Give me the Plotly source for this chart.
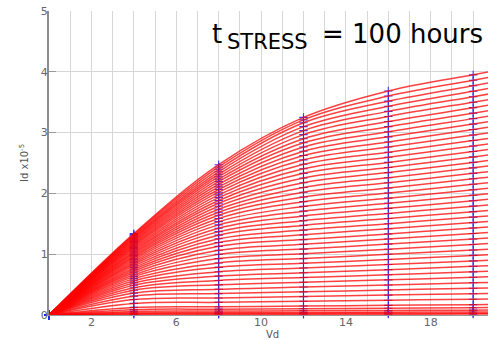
import plotly.graph_objects as go

# Drain voltage positions where each curve was sampled (blue markers at 0..20)
vd_points = [0, 4, 8, 12, 16, 20, 21]
vd_markers = [0, 4, 8, 12, 16, 20]

# Drain current (x10^-5) of each curve, read at each Vd position
id_vd4 = [1.338, 1.322, 1.304, 1.286, 1.267, 1.248, 1.230, 1.211, 1.192, 1.172,
          1.152, 1.132, 1.111, 1.091, 1.069, 1.048, 1.025, 1.004, 0.981, 0.958,
          0.934, 0.910, 0.885, 0.860, 0.834, 0.808, 0.780, 0.752, 0.724, 0.694,
          0.663, 0.631, 0.598, 0.564, 0.528, 0.490, 0.449, 0.406, 0.360, 0.310,
          0.254, 0.191, 0.125, 0.088, 0.059, 0.037, 0.022, 0.011]
id_vd8 = [2.472, 2.435, 2.396, 2.356, 2.315, 2.275, 2.235, 2.193, 2.150, 2.108,
          2.064, 2.020, 1.976, 1.930, 1.883, 1.837, 1.789, 1.740, 1.691, 1.640,
          1.588, 1.536, 1.482, 1.427, 1.371, 1.313, 1.253, 1.192, 1.129, 1.064,
          0.997, 0.928, 0.856, 0.784, 0.712, 0.640, 0.568, 0.496, 0.424, 0.352,
          0.280, 0.208, 0.136, 0.096, 0.064, 0.040, 0.024, 0.012]
id_vd12 = [3.250, 3.210, 3.163, 3.098, 3.033, 2.967, 2.900, 2.832, 2.764, 2.694,
           2.623, 2.552, 2.479, 2.405, 2.330, 2.254, 2.176, 2.098, 2.020, 1.942,
           1.864, 1.786, 1.708, 1.630, 1.552, 1.474, 1.396, 1.318, 1.240, 1.162,
           1.084, 1.006, 0.928, 0.850, 0.772, 0.694, 0.616, 0.538, 0.460, 0.381,
           0.303, 0.225, 0.147, 0.104, 0.069, 0.043, 0.026, 0.013]
id_vd16 = [3.685, 3.601, 3.517, 3.433, 3.349, 3.266, 3.182, 3.098, 3.014, 2.930,
           2.846, 2.762, 2.678, 2.594, 2.510, 2.426, 2.342, 2.258, 2.174, 2.090,
           2.006, 1.922, 1.838, 1.754, 1.670, 1.586, 1.502, 1.418, 1.334, 1.250,
           1.166, 1.082, 0.998, 0.914, 0.830, 0.746, 0.662, 0.578, 0.494, 0.411,
           0.327, 0.243, 0.159, 0.112, 0.075, 0.047, 0.028, 0.014]
id_vd20 = [3.95, 3.86, 3.77, 3.68, 3.59, 3.50, 3.41, 3.32, 3.23, 3.14,
           3.05, 2.96, 2.87, 2.78, 2.69, 2.60, 2.51, 2.42, 2.33, 2.24,
           2.15, 2.06, 1.97, 1.88, 1.79, 1.70, 1.61, 1.52, 1.43, 1.34,
           1.25, 1.16, 1.07, 0.98, 0.89, 0.80, 0.71, 0.62, 0.53, 0.44,
           0.35, 0.26, 0.17, 0.12, 0.08, 0.05, 0.03, 0.015]
id_vd21 = [4.017, 3.926, 3.834, 3.743, 3.651, 3.560, 3.468, 3.376, 3.285, 3.193,
           3.102, 3.010, 2.919, 2.827, 2.736, 2.644, 2.553, 2.461, 2.370, 2.278,
           2.187, 2.095, 2.003, 1.912, 1.820, 1.729, 1.637, 1.546, 1.454, 1.363,
           1.271, 1.180, 1.088, 0.997, 0.905, 0.814, 0.722, 0.631, 0.539, 0.447,
           0.356, 0.264, 0.173, 0.122, 0.081, 0.051, 0.031, 0.015]

x_tick_vals = list(range(1, 21))
x_tick_labels = ["", "2", "", "", "", "6", "", "", "", "10", "", "", "", "14",
                 "", "", "", "18", "", ""]
y_tick_vals = [0, 1, 2, 3, 4, 5]

fig = go.Figure()

n_curves = len(id_vd20)
mx, my = [], []
curves = []
for i in range(n_curves):
    ys = [0, id_vd4[i], id_vd8[i], id_vd12[i], id_vd16[i], id_vd20[i], id_vd21[i]]
    curves.append(ys)
    mx.extend(vd_markers)
    my.extend(ys[:6])

# markers first so the semi-transparent red curves tint them purple
fig.add_trace(go.Scatter(
    x=mx, y=my, mode="markers",
    marker=dict(symbol="cross-thin", size=6,
                line=dict(color="rgba(40,40,235,0.9)", width=1.1)),
    cliponaxis=False, hoverinfo="skip", showlegend=False))

for ys in curves:
    fig.add_trace(go.Scatter(
        x=vd_points, y=ys, mode="lines",
        line=dict(color="rgba(255,0,0,0.75)", width=1.5, shape="spline"),
        hoverinfo="skip", showlegend=False))

# plot area sits at x 49..488, y 11..315 of the picture
def px(x):
    return (x - 49) / 439

def py(y):
    return (315 - y) / 304

grid = "#d6d6d6"
fig.update_layout(
    width=488, height=340,
    margin=dict(l=49, r=0, t=11, b=25),
    paper_bgcolor="white", plot_bgcolor="white",
    font=dict(family="DejaVu Sans", color="#666666"),
    xaxis=dict(range=[0, 20.7], tickvals=x_tick_vals, ticktext=x_tick_labels,
               showgrid=True, gridcolor=grid, gridwidth=1, zeroline=False,
               showline=True, linecolor="#999999", linewidth=1, ticks="",
               ticklabelstandoff=-3,
               tickfont=dict(size=11, color="#666666")),
    yaxis=dict(range=[0, 5], tickvals=y_tick_vals,
               showgrid=True, gridcolor=grid, gridwidth=1, zeroline=False,
               showline=True, linecolor="#8c8c8c", linewidth=2,
               ticks="inside", ticklen=7, tickcolor="#999999",
               ticklabelstandoff=-3,
               tickfont=dict(size=11, color="#666666")),
    annotations=[
        dict(text="t", xref="paper", yref="paper", x=px(210), y=py(34),
             xanchor="left", yanchor="middle", showarrow=False,
             font=dict(size=26, color="black", family="DejaVu Sans")),
        dict(text="STRESS", xref="paper", yref="paper", x=px(225), y=py(42.5),
             xanchor="left", yanchor="middle", showarrow=False,
             font=dict(size=21, color="black", family="DejaVu Sans")),
        dict(text="= 100 hours", xref="paper", yref="paper", x=px(320), y=py(34),
             xanchor="left", yanchor="middle", showarrow=False,
             font=dict(size=26, color="black", family="DejaVu Sans")),
        dict(text="Vd", xref="paper", yref="paper", x=px(272), y=py(334),
             xanchor="center", yanchor="middle", showarrow=False,
             font=dict(size=10, color="#555555")),
        dict(text="Id x10<sup>-5</sup>", xref="paper", yref="paper",
             x=px(24), y=py(163), textangle=-90,
             xanchor="center", yanchor="middle", showarrow=False,
             font=dict(size=10, color="#555555")),
    ],
)

fig.write_html("out.html",
               config={"displayModeBar": False},
               post_script="document.body.style.margin='0';")
